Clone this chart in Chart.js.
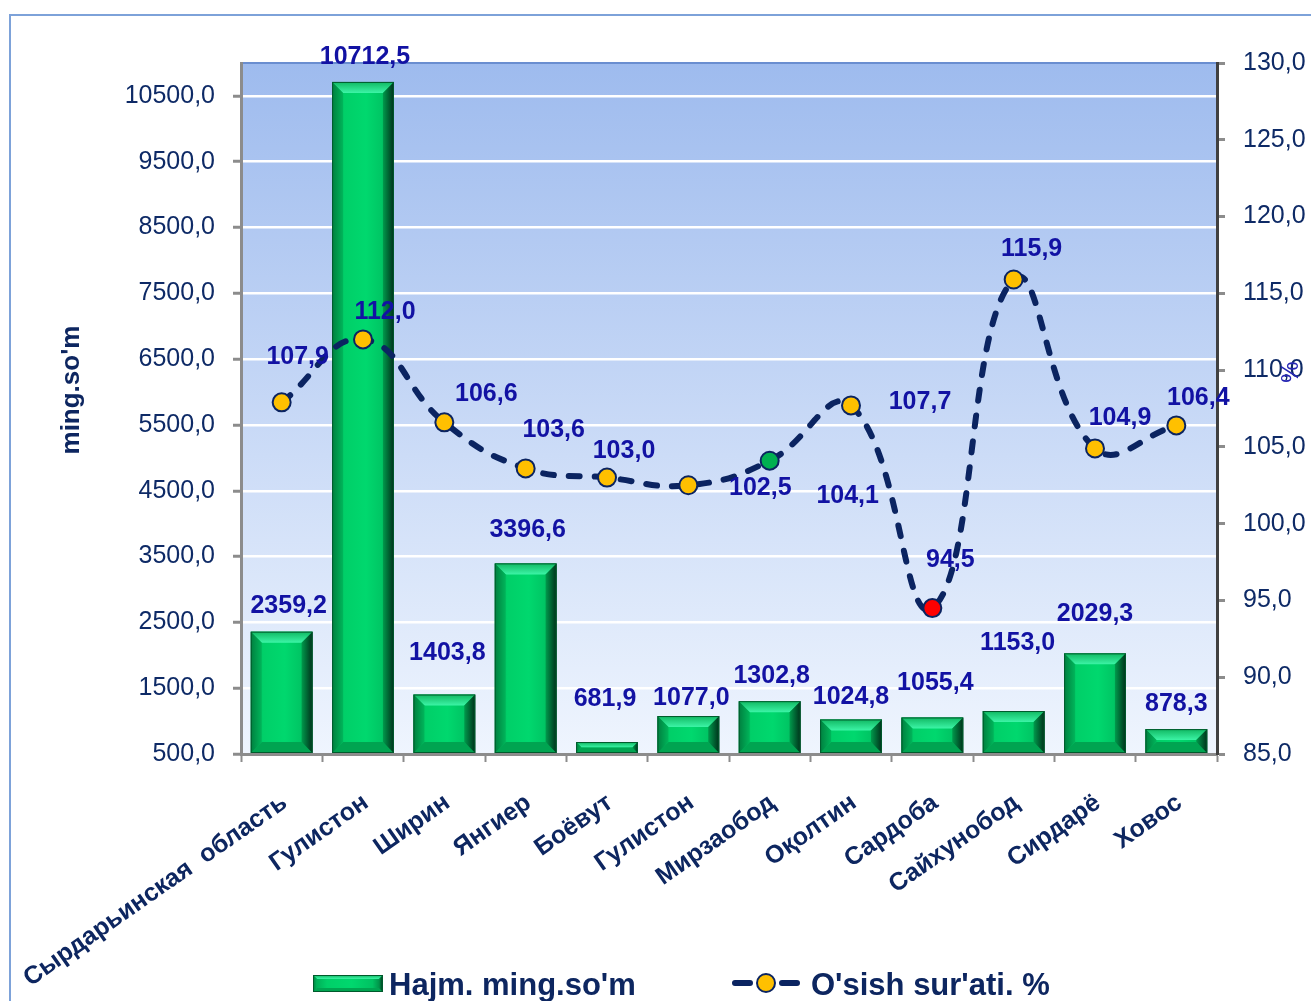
<!DOCTYPE html>
<html>
<head>
<meta charset="utf-8">
<script src="https://cdn.jsdelivr.net/npm/chart.js@4.4.1/dist/chart.umd.min.js"></script>
<style>
  body { margin: 0; background: #fff; }
  #wrap { width: 1311px; height: 1001px; overflow: hidden; }
</style>
</head>
<body>
<div id="wrap"><canvas id="chart" width="1311" height="1001"></canvas></div>
<script>
// districts
const districts = ['Сырдарьинская  область', 'Гулистон', 'Ширин', 'Янгиер', 'Боёвут', 'Гулистон',
  'Мирзаобод', 'Оқолтин', 'Сардоба', 'Сайхунобод', 'Сирдарё', 'Ховос']

// volume, ming.so'm (bars)
const volume = [2359.2, 10712.5, 1403.8, 3396.6, 681.9, 1077.0, 1302.8, 1024.8, 1055.4, 1153.0, 2029.3, 878.3]

// growth rate, % (line)
const growth = [107.9, 112.0, 106.6, 103.6, 103.0, 102.5, 104.1, 107.7, 94.5, 115.9, 104.9, 106.4]

const leftTicks = [500, 1500, 2500, 3500, 4500, 5500, 6500, 7500, 8500, 9500, 10500]
const rightTicks = [85, 90, 95, 100, 105, 110, 115, 120, 125, 130]

const seriesNames = ["Hajm. ming.so'm", "O'sish sur'ati. %"]

// value labels were dragged by hand in the original, small nudges in px
const barLabelShift = [[7, -26], [2, -25], [3, -41], [2, -33], [-2, -43], [3, -18], [2, -25], [0, -22], [3, -34], [4, -68], [0, -39], [0, -25]]
const lineLabelShift = [[16, -45], [22, -27], [42, -28], [28, -38], [17, -26], [72, 3], [78, 35], [69, -3], [18, -48], [18, -30], [25, -30], [22, -27]]

const FONT = "Arial, 'Liberation Sans', sans-serif"
const NAVY = '#0d2660'
const LABEL_BLUE = '#1212a3'
const LINE_NAVY = '#0b2461'

const fmt = v => Number(v).toFixed(1).replace('.', ',')

function poly(ctx, pts, fill) {
  ctx.beginPath()
  ctx.moveTo(pts[0][0], pts[0][1])
  for (let i = 1; i < pts.length; i++) ctx.lineTo(pts[i][0], pts[i][1])
  ctx.closePath()
  ctx.fillStyle = fill
  ctx.fill()
}

// green bevelled bar like the excel preset
function bevelBar(ctx, l, t, r, b, size) {
  const d = Math.min(size, (b - t) / 2, (r - l) / 2)
  ctx.save()
  let g = ctx.createLinearGradient(l, 0, r, 0)
  g.addColorStop(0, '#00a552')
  g.addColorStop(0.2, '#00cf68')
  g.addColorStop(0.55, '#00d86e')
  g.addColorStop(0.85, '#00c262')
  g.addColorStop(1, '#007a3c')
  ctx.fillStyle = g
  ctx.fillRect(l, t, r - l, b - t)

  g = ctx.createLinearGradient(0, t, 0, t + d)
  g.addColorStop(0, '#10b862')
  g.addColorStop(1, '#3cf4a6')
  poly(ctx, [[l, t], [r, t], [r - d, t + d], [l + d, t + d]], g)

  poly(ctx, [[l, b], [r, b], [r - d, b - d], [l + d, b - d]], '#00a451')

  g = ctx.createLinearGradient(l, 0, l + d, 0)
  g.addColorStop(0, '#007f3f')
  g.addColorStop(1, '#00b55a')
  poly(ctx, [[l, t], [l + d, t + d], [l + d, b - d], [l, b]], g)

  g = ctx.createLinearGradient(r - d, 0, r, 0)
  g.addColorStop(0, '#009a4c')
  g.addColorStop(1, '#00301a')
  poly(ctx, [[r, t], [r - d, t + d], [r - d, b - d], [r, b]], g)

  ctx.strokeStyle = '#005a2c'
  ctx.lineWidth = 1
  ctx.strokeRect(l + 0.5, t + 0.5, r - l - 1, b - t - 1)
  ctx.restore()
}

function dot(ctx, x, y, r, fill) {
  ctx.beginPath()
  ctx.arc(x, y, r, 0, Math.PI * 2)
  ctx.fillStyle = fill
  ctx.fill()
  ctx.lineWidth = 2
  ctx.strokeStyle = LINE_NAVY
  ctx.stroke()
}

const decor = {
  id: 'decor',
  beforeDraw(chart) {
    const {ctx, chartArea: a} = chart
    ctx.save()
    ctx.fillStyle = '#ffffff'
    ctx.fillRect(0, 0, chart.width, chart.height)
    ctx.strokeStyle = '#7da2d9'
    ctx.lineWidth = 2
    ctx.strokeRect(10, 15, chart.width + 40, chart.height + 40)
    const g = ctx.createLinearGradient(0, a.top, 0, a.bottom)
    g.addColorStop(0, '#9ebbee')
    g.addColorStop(1, '#eff5fe')
    ctx.fillStyle = g
    ctx.fillRect(a.left, a.top, a.right - a.left, a.bottom - a.top)
    ctx.strokeStyle = '#6a8ed0'
    ctx.beginPath()
    ctx.moveTo(a.left, a.top)
    ctx.lineTo(a.right, a.top)
    ctx.stroke()
    ctx.restore()
  },
  afterDatasetDraw(chart, args) {
    if (args.index !== 0) return
    const ctx = chart.ctx
    const bottom = chart.chartArea.bottom - 1
    args.meta.data.forEach(bar => {
      const half = bar.width / 2
      bevelBar(ctx, bar.x - half, bar.y, bar.x + half, Math.min(bar.base, bottom), 11)
    })
  },
  afterDraw(chart) {
    const ctx = chart.ctx
    const yL = chart.scales.y
    ctx.save()
    ctx.textAlign = 'center'
    ctx.textBaseline = 'middle'
    ctx.fillStyle = LABEL_BLUE
    ctx.font = 'bold 25px ' + FONT

    // bar values
    chart.getDatasetMeta(0).data.forEach((bar, i) => {
      const [dx, dy] = barLabelShift[i]
      ctx.fillText(fmt(volume[i]), bar.x + dx, yL.getPixelForValue(volume[i]) + dy)
    })
    // growth values
    chart.getDatasetMeta(1).data.forEach((pt, i) => {
      const [dx, dy] = lineLabelShift[i]
      ctx.fillText(fmt(growth[i]), pt.x + dx, pt.y + dy)
    })

    // axis titles
    ctx.save()
    ctx.translate(72, 390)
    ctx.rotate(-Math.PI / 2)
    ctx.fillStyle = NAVY
    ctx.font = 'bold 26px ' + FONT
    ctx.fillText("ming.so'm", 0, 0)
    ctx.restore()

    ctx.save()
    ctx.translate(1291, 372)
    ctx.rotate(-Math.PI / 2)
    ctx.fillStyle = '#2626b4'
    ctx.font = '24px ' + FONT
    ctx.fillText('%', 0, 0)
    ctx.restore()

    // legend
    bevelBar(ctx, 313, 975, 383, 992, 4)
    ctx.textAlign = 'left'
    ctx.textBaseline = 'alphabetic'
    ctx.fillStyle = NAVY
    ctx.font = 'bold 31px ' + FONT
    ctx.fillText(seriesNames[0], 389, 995)

    ctx.strokeStyle = LINE_NAVY
    ctx.lineWidth = 6
    ctx.lineCap = 'round'
    ctx.beginPath()
    ctx.moveTo(735, 983); ctx.lineTo(750, 983)
    ctx.moveTo(782, 983); ctx.lineTo(797, 983)
    ctx.stroke()
    dot(ctx, 766, 983, 9, '#ffc000')
    ctx.fillStyle = NAVY
    ctx.fillText(seriesNames[1], 811, 995)
    ctx.restore()
  }
}

const ctx = document.getElementById('chart')

new Chart(ctx, {
  data: {
    labels: districts,
    datasets: [{
      type: 'bar',
      label: seriesNames[0],
      data: volume,
      yAxisID: 'y',
      backgroundColor: 'rgba(0,0,0,0)',
      borderWidth: 0,
      barPercentage: 0.76,
      categoryPercentage: 1,
      order: 1
    }, {
      type: 'line',
      label: seriesNames[1],
      data: growth,
      yAxisID: 'y1',
      borderColor: LINE_NAVY,
      borderWidth: 6,
      borderDash: [11, 15],
      borderCapStyle: 'round',
      tension: 0.45,
      pointRadius: 9,
      pointBorderWidth: 2,
      pointBorderColor: LINE_NAVY,
      pointBackgroundColor: c => c.dataIndex === 6 ? '#00b050' : c.dataIndex === 8 ? '#ff0000' : '#ffc000',
      order: 0
    }]
  },
  options: {
    responsive: false,
    animation: false,
    devicePixelRatio: 1,
    layout: { padding: { top: 63, left: 0, right: 0, bottom: 0 } },
    plugins: {
      legend: { display: false },
      tooltip: { enabled: false }
    },
    scales: {
      x: {
        afterFit: s => { s.height = 247; s.paddingLeft = 0; s.paddingRight = 0 },
        ticks: {
          autoSkip: false, minRotation: 35, maxRotation: 35, padding: 26, labelOffset: 3,
          color: NAVY, font: { family: FONT, size: 25, weight: 'bold' }
        },
        grid: { drawOnChartArea: false, offset: true, tickColor: '#8c8c8c', tickLength: 8, tickWidth: 2 },
        border: { color: '#8c8c8c', width: 3 }
      },
      y: {
        position: 'left', min: 500, max: 11000,
        afterBuildTicks: s => { s.ticks = leftTicks.map(v => ({ value: v })) },
        afterFit: s => { s.width = 241 },
        ticks: { callback: v => fmt(v), color: '#0e2a66', padding: 18, font: { family: FONT, size: 25 } },
        grid: { color: '#ffffff', lineWidth: 2.5, tickColor: '#8c8c8c', tickLength: 8, tickWidth: 3 },
        border: { color: '#8c8c8c', width: 3 }
      },
      y1: {
        position: 'right', min: 85, max: 130,
        afterBuildTicks: s => { s.ticks = rightTicks.map(v => ({ value: v })) },
        afterFit: s => { s.width = 94 },
        ticks: { callback: v => fmt(v), color: '#0e2a66', padding: 18, font: { family: FONT, size: 25 } },
        grid: { drawOnChartArea: false, tickColor: '#8c8c8c', tickLength: 8, tickWidth: 3 },
        border: { color: '#404040', width: 3 }
      }
    }
  },
  plugins: [decor]
})
</script>
</body>
</html>
